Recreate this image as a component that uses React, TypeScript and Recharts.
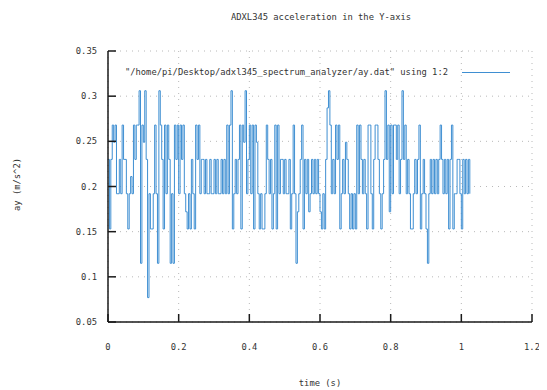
import { LineChart, Line, XAxis, YAxis, CartesianGrid } from "recharts";

const TITLE = "ADXL345 acceleration in the Y-axis";
const SERIES_NAME = '"/home/pi/Desktop/adxl345_spectrum_analyzer/ay.dat" using 1:2';
const X_LABEL = "time (s)";
const Y_LABEL = "ay (m/s^2)";

const X_TICKS = [0, 0.2, 0.4, 0.6, 0.8, 1, 1.2];
const X_TICK_LABELS = ["0", "0.2", "0.4", "0.6", "0.8", "1", "1.2"];
const Y_TICKS = [0.05, 0.1, 0.15, 0.2, 0.25, 0.3, 0.35];
const Y_TICK_LABELS = ["0.05", "0.1", "0.15", "0.2", "0.25", "0.3", "0.35"];

// one sample every 4 ms
const SAMPLE_DT = 0.004;

// ay readings (m/s^2)
const AY = [
  0.230, 0.153, 0.230, 0.268, 0.249, 0.268, 0.192, 0.192, 0.230, 0.192, 0.268, 0.230, 0.230, 0.192, 0.153, 0.192,
  0.211, 0.192, 0.268, 0.230, 0.268, 0.268, 0.306, 0.115, 0.268, 0.249, 0.306, 0.230, 0.077, 0.192, 0.153, 0.153,
  0.192, 0.268, 0.192, 0.115, 0.306, 0.268, 0.230, 0.153, 0.268, 0.192, 0.268, 0.230, 0.115, 0.192, 0.115, 0.268,
  0.230, 0.268, 0.192, 0.268, 0.230, 0.268, 0.192, 0.172, 0.153, 0.192, 0.153, 0.230, 0.192, 0.153, 0.268, 0.230,
  0.268, 0.192, 0.230, 0.230, 0.192, 0.230, 0.192, 0.192, 0.230, 0.192, 0.192, 0.230, 0.192, 0.230, 0.192, 0.192,
  0.230, 0.192, 0.230, 0.192, 0.268, 0.192, 0.268, 0.306, 0.153, 0.192, 0.230, 0.192, 0.230, 0.268, 0.153, 0.268,
  0.249, 0.306, 0.192, 0.230, 0.268, 0.192, 0.268, 0.153, 0.268, 0.249, 0.192, 0.153, 0.192, 0.153, 0.153, 0.192,
  0.268, 0.230, 0.192, 0.230, 0.153, 0.192, 0.268, 0.153, 0.268, 0.192, 0.230, 0.230, 0.192, 0.230, 0.192, 0.192,
  0.230, 0.153, 0.192, 0.268, 0.192, 0.115, 0.172, 0.192, 0.230, 0.268, 0.153, 0.230, 0.192, 0.230, 0.172, 0.192,
  0.230, 0.192, 0.230, 0.192, 0.230, 0.192, 0.172, 0.153, 0.192, 0.153, 0.230, 0.287, 0.306, 0.268, 0.192, 0.230,
  0.192, 0.268, 0.230, 0.268, 0.153, 0.192, 0.230, 0.192, 0.249, 0.230, 0.192, 0.153, 0.192, 0.153, 0.192, 0.153,
  0.268, 0.192, 0.268, 0.230, 0.192, 0.230, 0.192, 0.153, 0.268, 0.268, 0.192, 0.153, 0.230, 0.268, 0.268, 0.230,
  0.192, 0.153, 0.192, 0.230, 0.306, 0.230, 0.268, 0.172, 0.268, 0.192, 0.268, 0.268, 0.230, 0.268, 0.192, 0.230,
  0.306, 0.230, 0.268, 0.192, 0.230, 0.192, 0.153, 0.153, 0.192, 0.230, 0.192, 0.230, 0.268, 0.153, 0.192, 0.230,
  0.192, 0.153, 0.115, 0.192, 0.230, 0.192, 0.230, 0.192, 0.230, 0.192, 0.230, 0.268, 0.230, 0.192, 0.230, 0.192,
  0.230, 0.153, 0.230, 0.268, 0.153, 0.192, 0.192, 0.230, 0.230, 0.192, 0.153, 0.230, 0.192, 0.230, 0.192, 0.230,
  0.192,
];

const FONT = "'DejaVu Sans Mono', monospace";
const FONT_SIZE = 8.8;
const TEXT_COLOR = "#333";
const LINE_COLOR = "#3f8fd2";
const FRAME = "#1a1a1a";

const data = AY.map((ay, i) => ({ t: +(i * SAMPLE_DT).toFixed(3), ay }));

const BottomTick = ({ x, y, payload }: any) => (
  <g>
    <line x1={x} y1={y} x2={x} y2={y - 8} stroke={FRAME} strokeWidth={1.5} />
    <text x={x} y={y + 28} textAnchor="middle" fontFamily={FONT} fontSize={FONT_SIZE} fill={TEXT_COLOR}>
      {X_TICK_LABELS[X_TICKS.indexOf(payload.value)] ?? payload.value}
    </text>
  </g>
);

const TopTick = ({ x, y }: any) => (
  <line x1={x} y1={y} x2={x} y2={y + 8} stroke={FRAME} strokeWidth={1.5} />
);

const LeftTick = ({ x, y, payload }: any) => (
  <g>
    <line x1={x} y1={y} x2={x + 8} y2={y} stroke={FRAME} strokeWidth={1.5} />
    <text x={x - 11} y={y + 3} textAnchor="end" fontFamily={FONT} fontSize={FONT_SIZE} fill={TEXT_COLOR}>
      {Y_TICK_LABELS[Y_TICKS.indexOf(payload.value)] ?? payload.value}
    </text>
  </g>
);

const RightTick = ({ x, y }: any) => (
  <line x1={x} y1={y} x2={x - 8} y2={y} stroke={FRAME} strokeWidth={1.5} />
);

const textStyle = { fontFamily: FONT, fontSize: FONT_SIZE, color: TEXT_COLOR, whiteSpace: "pre" as const };

export default function App() {
  return (
    <div style={{ position: "relative", width: 531, height: 382, background: "#fff" }}>
      <div style={{ ...textStyle, position: "absolute", top: 4, left: 0, width: 626, textAlign: "center" }}>
        {TITLE}
      </div>
      <LineChart width={531} height={382} data={data} margin={{ top: 43, right: 7, left: 0, bottom: 0 }}>
        <CartesianGrid
          stroke="#b8b8b8"
          strokeDasharray="1 5"
          horizontalValues={Y_TICKS}
          verticalValues={X_TICKS}
        />
        <XAxis
          dataKey="t"
          type="number"
          domain={[0, 1.2]}
          ticks={X_TICKS}
          allowDataOverflow
          height={68}
          tickSize={0}
          tickMargin={0}
          tick={<BottomTick />}
          axisLine={{ stroke: FRAME, strokeWidth: 1.5 }}
          tickLine={false}
          interval={0}
          label={{ value: X_LABEL, position: "insideBottom", offset: 4, fontFamily: FONT, fontSize: FONT_SIZE, fill: TEXT_COLOR }}
        />
        <XAxis
          xAxisId="top"
          dataKey="t"
          orientation="top"
          type="number"
          domain={[0, 1.2]}
          ticks={X_TICKS}
          allowDataOverflow
          height={0}
          tickSize={0}
          tickMargin={0}
          tick={<TopTick />}
          axisLine={{ stroke: FRAME, strokeWidth: 1.5 }}
          tickLine={false}
          interval={0}
        />
        <YAxis
          type="number"
          domain={[0.05, 0.35]}
          ticks={Y_TICKS}
          allowDataOverflow
          width={100}
          tickSize={0}
          tickMargin={0}
          tick={<LeftTick />}
          axisLine={{ stroke: FRAME, strokeWidth: 1.5 }}
          tickLine={false}
          interval={0}
          label={{
            content: (p: any) => {
              const vb = p.viewBox;
              const cx = vb.x + 9;
              const cy = vb.y + vb.height / 2 - 2;
              return (
                <text
                  x={cx}
                  y={cy}
                  transform={`rotate(-90 ${cx} ${cy})`}
                  textAnchor="middle"
                  dominantBaseline="central"
                  fontFamily={FONT}
                  fontSize={FONT_SIZE}
                  fill={TEXT_COLOR}
                >
                  {Y_LABEL}
                </text>
              );
            },
          }}
        />
        <YAxis
          yAxisId="right"
          orientation="right"
          type="number"
          domain={[0.05, 0.35]}
          ticks={Y_TICKS}
          allowDataOverflow
          width={0}
          tickSize={0}
          tickMargin={0}
          tick={<RightTick />}
          axisLine={{ stroke: FRAME, strokeWidth: 1.5 }}
          tickLine={false}
          interval={0}
        />
        {/* invisible copy bound to the mirror axes so they get drawn */}
        <Line
          xAxisId="top"
          yAxisId="right"
          dataKey="ay"
          stroke="none"
          dot={false}
          activeDot={false}
          legendType="none"
          isAnimationActive={false}
        />
        <Line
          type="stepAfter"
          dataKey="ay"
          name={SERIES_NAME}
          stroke={LINE_COLOR}
          strokeWidth={1}
          dot={false}
          activeDot={false}
          isAnimationActive={false}
        />
      </LineChart>
      <div style={{ ...textStyle, position: "absolute", top: 59, right: 91 }}>{SERIES_NAME}</div>
      <div style={{ position: "absolute", top: 64, left: 454, width: 48, height: 0, borderTop: `1px solid ${LINE_COLOR}` }} />
    </div>
  );
}
